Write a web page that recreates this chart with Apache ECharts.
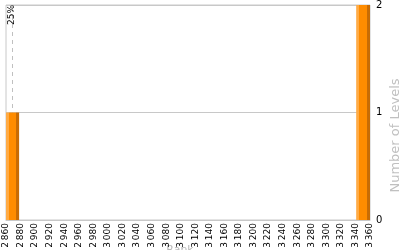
<!DOCTYPE html>
<html><head><meta charset="utf-8">
<script src="https://cdn.jsdelivr.net/npm/echarts@6/dist/echarts.min.js"></script>
<style>html,body{margin:0;padding:0;background:#fff}#c{width:400px;height:250px}</style>
</head><body><div id="c"></div>
<script>
// Histogram bins: start rank, end rank, number of levels
var binStarts = [2860, 3341];
var binEnds = [2878, 3360];
var binCounts = [1, 2];
var percentileValue = 2869;
var percentileLabel = '25%';
var xMin = 2860, xMax = 3360, xStep = 20;
var yTicks = [0, 1, 2];

var data = binStarts.map(function (s, i) { return [s, binEnds[i], binCounts[i]]; });
var chart = echarts.init(document.getElementById('c'), null, {renderer: 'canvas'});
var font = 'DejaVu Sans';
chart.setOption({
  animation: false,
  grid: {left: 6, right: 30, top: 5, bottom: 30, show: true, borderColor: '#c8c8c8', borderWidth: 1,
    containLabel: false, outerBoundsMode: 'none'},
  xAxis: {
    type: 'value', min: xMin, max: xMax, interval: xStep,
    name: 'Rank', nameLocation: 'middle', nameGap: 25, nameMoveOverlap: false,
    nameTextStyle: {color: '#b8b8b8', fontFamily: font, fontSize: 11, padding: [0, 16, 0, 0]},
    axisLine: {show: true, lineStyle: {color: '#c8c8c8'}},
    axisTick: {show: false}, splitLine: {show: false},
    axisLabel: {rotate: 90, fontFamily: font, fontSize: 9, color: '#000', margin: 3, hideOverlap: false,
      formatter: function (v) { var s = String(v); return s.slice(0, s.length - 3) + '\u2009' + s.slice(-3); }}
  },
  yAxis: {
    type: 'value', position: 'right', min: yTicks[0], max: yTicks[yTicks.length - 1], interval: 1,
    name: 'Number of Levels', nameLocation: 'middle', nameGap: 19, nameRotate: 90, nameMoveOverlap: false,
    nameTextStyle: {color: '#c0c0c0', fontFamily: font, fontSize: 13, padding: [0, 46, 0, 0]},
    axisLine: {show: false}, axisTick: {show: false},
    splitLine: {show: true, lineStyle: {color: '#c8c8c8'}},
    axisLabel: {fontFamily: font, fontSize: 10, color: '#000', margin: 6}
  },
  series: [{
    type: 'custom',
    z: 3,
    data: data,
    encode: {x: [0, 1], y: 2},
    renderItem: function (params, api) {
      var p0 = api.coord([api.value(0), api.value(2)]);
      var p1 = api.coord([api.value(1), 0]);
      return {
        type: 'rect',
        shape: {x: p0[0], y: p0[1], width: p1[0] - p0[0], height: p1[1] - p0[1]},
        style: {fill: new echarts.graphic.LinearGradient(0, 0, 1, 0, [
          {offset: 0, color: '#ffab45'}, {offset: 0.22, color: '#ffab45'},
          {offset: 0.22, color: '#ff8c00'}, {offset: 0.78, color: '#ff8c00'},
          {offset: 0.78, color: '#c86c05'}, {offset: 1, color: '#c86c05'}
        ])}
      };
    }
  }, {
    type: 'line', z: 1, data: [],
    markLine: {
      silent: true, symbol: 'none', z: 1,
      lineStyle: {type: [4, 4], color: '#c0c0c0', width: 1},
      label: {show: true, position: 'insideEndTop', formatter: percentileLabel, color: '#000', fontFamily: font, fontSize: 9, distance: [0, -4]},
      data: [{xAxis: percentileValue}]
    }
  }]
});
</script></body></html>
